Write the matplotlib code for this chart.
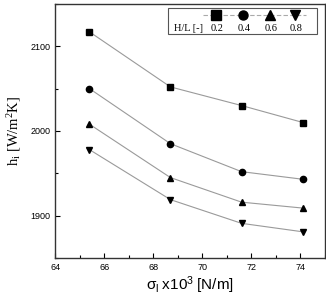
import matplotlib
matplotlib.use('Agg')
import matplotlib.pyplot as plt
from matplotlib.patches import Rectangle
from matplotlib.ticker import MultipleLocator

plt.rcParams['mathtext.fontset'] = 'custom'
plt.rcParams['mathtext.rm'] = 'Liberation Serif'
plt.rcParams['mathtext.it'] = 'Liberation Serif:italic'
plt.rcParams['mathtext.sf'] = 'Liberation Sans'

# surface tension x10^3 [N/m]
sigma = [65.4, 68.7, 71.6, 74.1]

# heat transfer coefficient for each H/L ratio
h_02 = [2117, 2052, 2030, 2010]
h_04 = [2050, 1985, 1952, 1943]
h_06 = [2008, 1945, 1916, 1909]
h_08 = [1978, 1919, 1891, 1881]

hl_labels = ['0.2', '0.4', '0.6', '0.8']
markers = ['s', 'o', '^', 'v']

fig = plt.figure(figsize=(3.26, 2.97), dpi=100)
ax = fig.add_axes([0.169, 0.131, 0.828, 0.856])

for h, m in zip([h_02, h_04, h_06, h_08], markers):
    ax.plot(sigma, h, color='#9a9a9a', lw=0.8, marker=m, ms=4.5,
            mfc='black', mec='black', zorder=3)

ax.set_xlim(64, 75)
ax.set_ylim(1850, 2150)
ax.xaxis.set_major_locator(MultipleLocator(2))
ax.xaxis.set_minor_locator(MultipleLocator(1))
ax.yaxis.set_major_locator(MultipleLocator(100))
ax.yaxis.set_minor_locator(MultipleLocator(50))
ax.tick_params(which='both', direction='in', labelsize=6.5, width=0.8)
ax.tick_params(which='major', length=3.5)
ax.tick_params(which='minor', length=2)
for lab in ax.get_xticklabels() + ax.get_yticklabels():
    lab.set_family('Liberation Sans')
for s in ax.spines.values():
    s.set_linewidth(1.0)
    s.set_color('#333333')

ax.set_xlabel(r'$\mathsf{\sigma_l\ x10^3\ [N/m]}$', fontsize=11, labelpad=2)
ax.set_ylabel(r'$\mathrm{h_i\ [W/m^2K]}$', fontsize=10.5, labelpad=5)

# hand-made legend: markers above labels
box = Rectangle((0.419, 0.882), 0.970 - 0.419, 0.102, transform=ax.transAxes,
                fill=True, fc='white', ec='#555555', lw=0.8, zorder=4)
ax.add_patch(box)
ax.plot([0.548, 0.93], [0.957, 0.957], transform=ax.transAxes, color='#aaaaaa',
        lw=0.8, ls=(0, (4, 2)), zorder=5)
xs = [0.597, 0.696, 0.796, 0.889]
ax.text(0.493, 0.905, 'H/L [-]', transform=ax.transAxes, ha='center', va='center',
        family='Liberation Serif', fontsize=7.5, zorder=6)
for xp, m, lab in zip(xs, markers, hl_labels):
    ax.plot([xp], [0.957], transform=ax.transAxes, marker=m, ms=6.5,
            color='black', zorder=6)
    ax.text(xp + 0.003, 0.905, lab, transform=ax.transAxes, ha='center', va='center',
            family='Liberation Serif', fontsize=7.5, zorder=6)

fig.savefig('out.png', dpi=100)
